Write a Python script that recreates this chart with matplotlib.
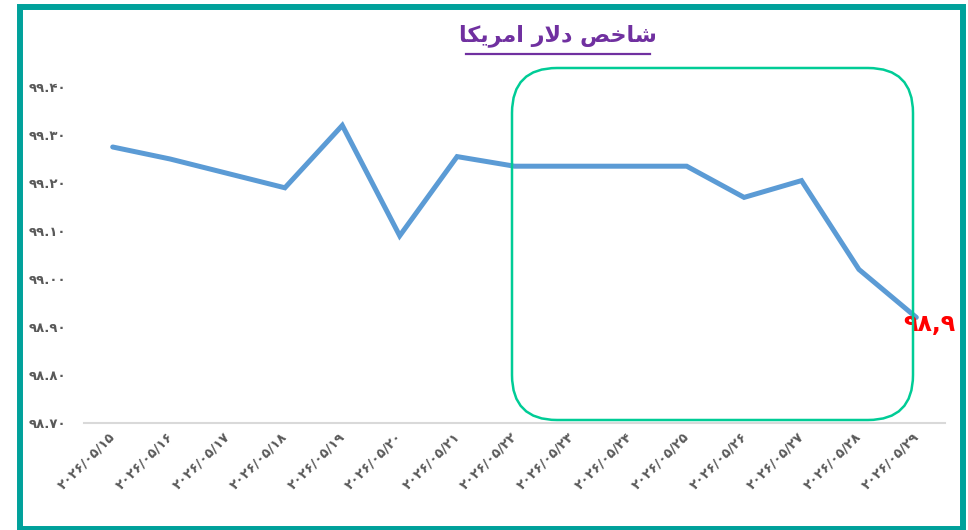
import matplotlib
matplotlib.use("Agg")
import matplotlib.pyplot as plt
from matplotlib.patches import FancyBboxPatch, Rectangle
from matplotlib.lines import Line2D
from matplotlib.transforms import ScaledTranslation

plt.rcParams['font.family'] = ['DejaVu Sans']

# ---- data ----
dates = ["۲۰۲۶/۰۵/۱۵", "۲۰۲۶/۰۵/۱۶", "۲۰۲۶/۰۵/۱۷", "۲۰۲۶/۰۵/۱۸", "۲۰۲۶/۰۵/۱۹",
         "۲۰۲۶/۰۵/۲۰", "۲۰۲۶/۰۵/۲۱", "۲۰۲۶/۰۵/۲۲", "۲۰۲۶/۰۵/۲۳", "۲۰۲۶/۰۵/۲۴",
         "۲۰۲۶/۰۵/۲۵", "۲۰۲۶/۰۵/۲۶", "۲۰۲۶/۰۵/۲۷", "۲۰۲۶/۰۵/۲۸", "۲۰۲۶/۰۵/۲۹"]
values = [99.275, 99.25, 99.22, 99.19, 99.32, 99.09, 99.255, 99.235, 99.235, 99.235,
          99.235, 99.17, 99.205, 99.02, 98.92]
yticks = [98.70, 98.80, 98.90, 99.00, 99.10, 99.20, 99.30, 99.40]
ytick_labels = ["۹۸.۷۰", "۹۸.۸۰", "۹۸.۹۰", "۹۹.۰۰", "۹۹.۱۰", "۹۹.۲۰", "۹۹.۳۰", "۹۹.۴۰"]
last_label = "۹۸,۹"
# title "شاخص دلار امریکا" written with shaped presentation forms, reversed for LTR drawing
title_shaped = "\uFEB7\uFE8E\uFEA7\uFEBA \uFEA9\uFEFB\uFEAD \uFE8D\uFEE3\uFEAE\uFBFE\uFB91\uFE8E"
title_text = title_shaped[::-1]

fig = plt.figure(figsize=(9.68, 5.30), dpi=100)
fig.patch.set_facecolor('white')

ax = fig.add_axes([84/968, 1-423/530, (945-84)/968, (423-87)/530])
x = list(range(len(values)))
ax.plot(x, values, color='#5B9BD5', lw=3.6, solid_capstyle='round', solid_joinstyle='miter', zorder=3)
ax.set_xlim(-0.5, len(values)-0.5)
ax.set_ylim(98.70, 99.40)

for s in ['top', 'right', 'left']:
    ax.spines[s].set_visible(False)
ax.spines['bottom'].set_color('#D9D9D9')
ax.spines['bottom'].set_linewidth(1.5)

ax.set_yticks(yticks)
ax.set_yticklabels(ytick_labels, fontsize=9.5, fontweight='bold', color='#595959')
ax.set_xticks(x)
ax.set_xticklabels(dates, fontsize=9.5, fontweight='bold', color='#595959',
                   rotation=45, ha='right', va='top', rotation_mode='anchor')
ax.tick_params(axis='both', length=0)
ax.tick_params(axis='y', pad=13)
ax.tick_params(axis='x', pad=5)
shift = ScaledTranslation(-4/100, 0, fig.dpi_scale_trans)
for lbl in ax.get_xticklabels():
    lbl.set_transform(lbl.get_transform() + shift)

ax.annotate(last_label, xy=(x[-1], values[-1]), xytext=(9.5, -5), textcoords='offset points',
            ha='center', va='center', fontsize=17, fontweight='bold', color='#FF0000', zorder=5)

# rounded highlight box
box = FancyBboxPatch((5.12 + 0.45, 1.10 + 0.45), 9.13 - 5.12 - 0.9, 4.62 - 1.10 - 0.9,
                     boxstyle="round,pad=0.45", transform=fig.dpi_scale_trans,
                     fill=False, edgecolor='#00CC96', lw=1.8, zorder=4)
fig.patches.append(box)

# outer teal frame
frame = Rectangle((0.20, 0.015), 9.63 - 0.20, 5.23 - 0.015, transform=fig.dpi_scale_trans,
                  fill=False, edgecolor='#00A19B', lw=4.3, zorder=10)
fig.patches.append(frame)

# title with underline
fig.text(5.58, 4.94, title_text, transform=fig.dpi_scale_trans, ha='center', va='center',
         fontsize=16, fontweight='bold', color='#7030A0')
fig.lines.append(Line2D([4.66, 6.50], [4.76, 4.76], transform=fig.dpi_scale_trans,
                        color='#7030A0', lw=1.6))

fig.savefig('out.png', dpi=100)
